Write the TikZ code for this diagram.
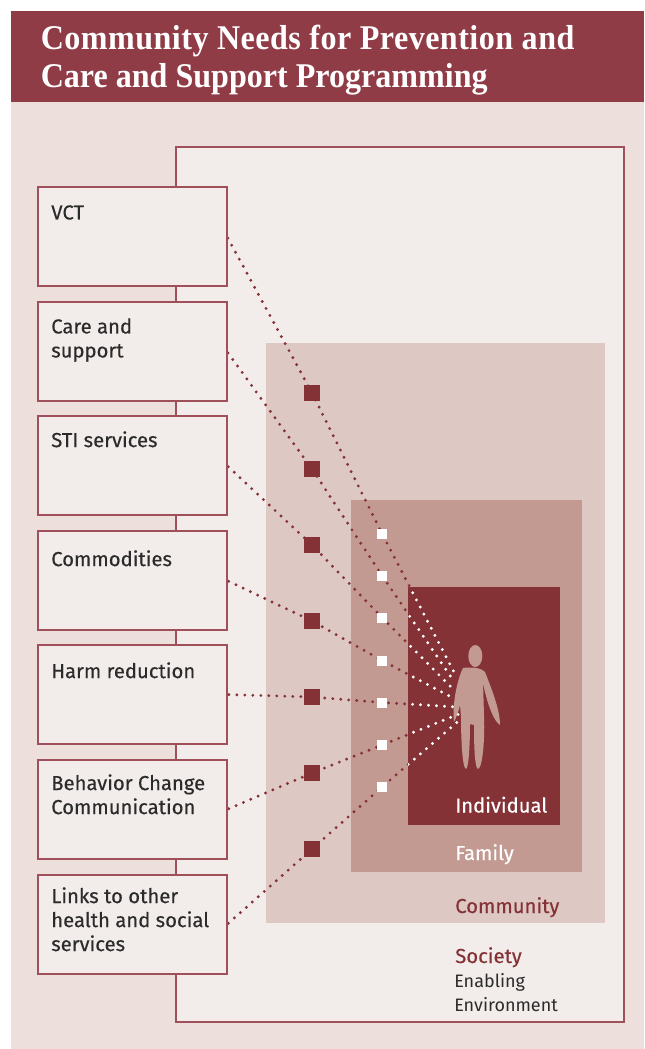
\documentclass[tikz,border=0pt]{standalone}
\usepackage{fontspec}
\setmainfont{Liberation Serif}
\newfontfamily\titlefont[FakeStretch=.925]{Liberation Serif}
\newfontfamily\labelfont[FakeBold=.35]{Fira Sans}
\newfontfamily\plainfont{Fira Sans}
\usetikzlibrary{backgrounds}
\definecolor{titlered}{HTML}{903C46}
\definecolor{darkred}{HTML}{843236}
\definecolor{edgered}{HTML}{A0505A}
\definecolor{pagepink}{HTML}{ECDFDC}
\definecolor{panelgrey}{HTML}{F2EDEA}
\definecolor{communitypink}{HTML}{DEC8C3}
\definecolor{familypink}{HTML}{C39A92}
\definecolor{labelgrey}{HTML}{2B2B2B}
\tikzset{
  layerbox/.style={rectangle, inner sep=0pt, outer sep=0pt},
  servicebox/.style={rectangle, draw=edgered, line width=.95pt, fill=panelgrey, inner sep=0pt, outer sep=0pt, minimum width=141.75pt, minimum height=74.25pt},
  servicetext/.style={anchor=north west, align=left, inner sep=0pt, text=labelgrey, font=\labelfont\fontsize{15.2}{18}\selectfont},
  layertext/.style={anchor=base west, inner sep=0pt, font=\labelfont\fontsize{15.2}{18}\selectfont},
  bigsquare/.style={rectangle, fill=darkred, inner sep=0pt, minimum size=12pt},
  smallsquare/.style={rectangle, fill=white, inner sep=0pt, minimum size=7.5pt},
  dotline/.style={line width=2.4pt, line cap=round, dash pattern=on 0pt off 6pt, dash phase=4.6pt}
}
\begin{document}
\begin{tikzpicture}[x=.75pt, y=-.75pt]
\useasboundingbox (0,0) rectangle (644,1049);

\begin{scope}[on background layer]
\fill[pagepink] (11,102) rectangle (644,1049);
\fill[titlered] (11,11) rectangle (644,102);
\node [layerbox, draw=edgered, line width=.95pt, fill=panelgrey, minimum width=336pt, minimum height=656.25pt] (society) at (400,584.5) {};
\node [layerbox, fill=communitypink, minimum width=254.25pt, minimum height=435pt] (community) at (435.5,633) {};
\node [layerbox, fill=familypink, minimum width=173.25pt, minimum height=279pt] (family) at (466.5,686) {};
\node [layerbox, fill=darkred, minimum width=114pt, minimum height=178.5pt] (individual) at (484,706) {};
% person
\fill[familypink] (475.3,656) ellipse [x radius=7, y radius=11];
\fill[familypink] (463,668) .. controls (470,667) and (480,667) .. (485,672)
  .. controls (492,690) and (500,710) .. (500,725) .. controls (492,720) and (485,695) .. (483,682)
  -- (484,715) .. controls (485,735) and (483,768) .. (478,769) .. controls (474,768) and (474,735) .. (474,725)
  -- (470,724) .. controls (470,740) and (469,768) .. (466,769) .. controls (462,768) and (461,735) .. (461,717)
  -- (460,705) .. controls (458,713) and (456,718) .. (454,722) .. controls (452,705) and (457,680) .. (463,668) -- cycle;
\end{scope}

\node [anchor=base west, inner sep=0pt, align=left, text=white, font=\titlefont\bfseries\fontsize{26}{28.5}\selectfont] (title) at (40.5,88) {{\addfontfeature{LetterSpace=1.4}Community Needs for Prevention and}\\Care and Support Programming};

% services
\node [servicebox] (vct) at (132.5,236.5) {};
\node [servicebox] (care) at (132.5,351.5) {};
\node [servicebox] (sti) at (132.5,465.5) {};
\node [servicebox] (commodities) at (132.5,580.5) {};
\node [servicebox] (harm) at (132.5,694.5) {};
\node [servicebox] (behavior) at (132.5,809.5) {};
\node [servicebox] (links) at (132.5,924.5) {};

\node [servicetext] (vcttext) at (51,205) {VCT};
\node [servicetext] (caretext) at (51,318) {Care and\\support};
\node [servicetext] (stitext) at (51,431) {STI services};
\node [servicetext] (commoditiestext) at (51,550) {Commodities};
\node [servicetext] (harmtext) at (51,662) {Harm reduction};
\node [servicetext] (behaviortext) at (51,774) {Behavior Change\\Communication};
\node [servicetext] (linkstext) at (51,887) {Links to other\\health and social\\services};

\node [bigsquare] (b1) at (312,393) {};
\node [bigsquare] (b2) at (312,469) {};
\node [bigsquare] (b3) at (312,545) {};
\node [bigsquare] (b4) at (312,621) {};
\node [bigsquare] (b5) at (312,697) {};
\node [bigsquare] (b6) at (312,773) {};
\node [bigsquare] (b7) at (312,849) {};

\node [smallsquare] (w1) at (382,533.5) {};
\node [smallsquare] (w2) at (382,575.5) {};
\node [smallsquare] (w3) at (382,617.5) {};
\node [smallsquare] (w4) at (382,660.5) {};
\node [smallsquare] (w5) at (382,702.5) {};
\node [smallsquare] (w6) at (382,745) {};
\node [smallsquare] (w7) at (382,787) {};

\coordinate (p1) at (456,676);
\coordinate (p2) at (453,680);
\coordinate (p3) at (455,691);
\coordinate (p4) at (455,699);
\coordinate (p5) at (458,707);
\coordinate (p6) at (459,714);
\coordinate (p7) at (462,718);

\begin{scope}[on background layer]
\draw[dotline, darkred] (vct.east) -- (b1.center) -- (w1.center) -- (p1);
\draw[dotline, darkred] (care.east) -- (b2.center) -- (w2.center) -- (p2);
\draw[dotline, darkred] (sti.east) -- (b3.center) -- (w3.center) -- (p3);
\draw[dotline, darkred] (commodities.east) -- (b4.center) -- (w4.center) -- (p4);
\draw[dotline, darkred] (harm.east) -- (b5.center) -- (w5.center) -- (p5);
\draw[dotline, darkred] (behavior.east) -- (b6.center) -- (w6.center) -- (p6);
\draw[dotline, darkred] (links.east) -- (b7.center) -- (w7.center) -- (p7);
\begin{scope}
\clip (individual.north west) rectangle (individual.south east);
\draw[dotline, white] (vct.east) -- (b1.center) -- (w1.center) -- (p1);
\draw[dotline, white] (care.east) -- (b2.center) -- (w2.center) -- (p2);
\draw[dotline, white] (sti.east) -- (b3.center) -- (w3.center) -- (p3);
\draw[dotline, white] (commodities.east) -- (b4.center) -- (w4.center) -- (p4);
\draw[dotline, white] (harm.east) -- (b5.center) -- (w5.center) -- (p5);
\draw[dotline, white] (behavior.east) -- (b6.center) -- (w6.center) -- (p6);
\draw[dotline, white] (links.east) -- (b7.center) -- (w7.center) -- (p7);
\end{scope}
\end{scope}

% layers
\node [layertext, text=white] (individualtext) at (455,812.5) {Individual};
\node [layertext, text=white] (familytext) at (455,860) {Family};
\node [layertext, text=darkred] (communitytext) at (455,913) {Community};
\node [layertext, text=darkred] (societytext) at (455,963) {Society};
\node [anchor=north west, align=left, inner sep=0pt, text=labelgrey, font=\plainfont\fontsize{13.5}{18}\selectfont] (enabling) at (454,973.5) {Enabling\\Environment};
\end{tikzpicture}
\end{document}
